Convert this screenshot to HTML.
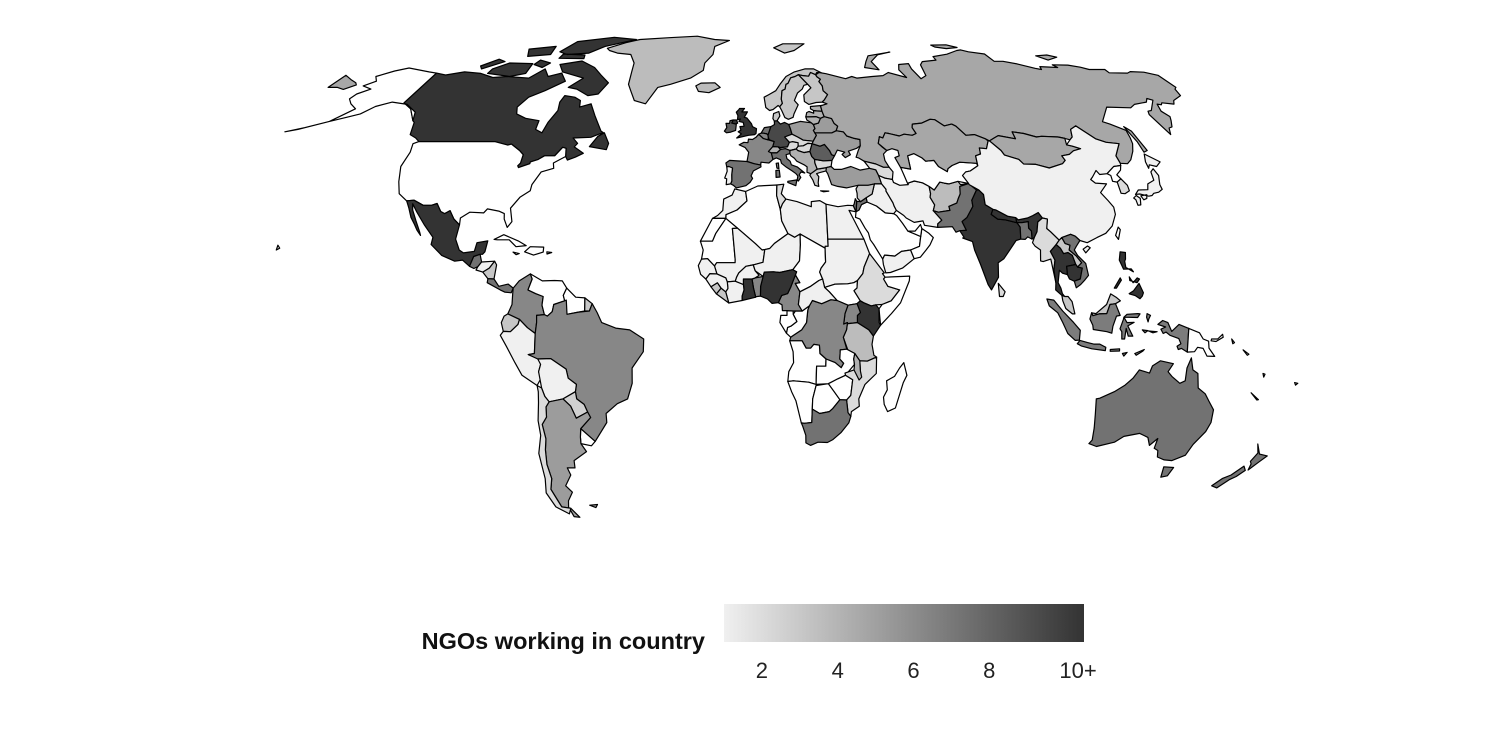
<!DOCTYPE html>
<html><head><meta charset="utf-8">
<style>
html,body{margin:0;padding:0;background:#fff;}
#wrap{position:relative;width:1500px;height:750px;overflow:hidden;font-family:"Liberation Sans",sans-serif;}
svg{position:absolute;left:0;top:0;}
</style></head>
<body>
<div id="wrap">
<svg id="map" width="1500" height="750" viewBox="0 0 1500 750">
  <defs>
    <linearGradient id="lg" x1="0" x2="1" y1="0" y2="0">
      <stop offset="0" stop-color="#f0f0f0"/>
      <stop offset="1" stop-color="#333333"/>
    </linearGradient>
  </defs>
  <g id="countries"></g>
  <g id="legend">
    <text x="705" y="649" text-anchor="end" font-size="23.5" font-weight="bold" fill="#111">NGOs working in country</text>
    <rect x="724" y="604" width="360" height="38" fill="url(#lg)"/>
    <g id="legend-ticks"></g>
  </g>
</svg>
</div>
<script>
// ---- data ----
const countryNames = ["canada","usa","alaska","mexico","greenland","iceland","guatemala","honduras","nicaragua","costa-rica-panama","cuba","hispaniola",
"colombia","venezuela","guyanas","french-guiana","ecuador","peru","brazil","bolivia","paraguay","uruguay","argentina","chile",
"uk","ireland","france","spain","portugal","netherlands","belgium","germany","switzerland","austria","italy","sicily","sardinia","poland","czechia-slovakia","hungary","balkans","greece","bulgaria","romania","ukraine","belarus","lithuania","latvia","estonia","norway","sweden","finland","denmark","russia","novaya-zemlya","sakhalin","turkey","caucasus",
"morocco","western-sahara","algeria","tunisia","libya","egypt","mauritania","mali","niger","chad","sudan","south-sudan","ethiopia","somalia","kenya","uganda","tanzania","drc","congo","gabon","cameroon","car","nigeria","benin","ghana","ivory-coast","burkina-faso","liberia","sierra-leone","guinea","senegal","angola","namibia","botswana","zambia","zimbabwe","mozambique","malawi","south-africa","madagascar",
"saudi-arabia","yemen","oman","uae","iraq","jordan","israel","syria","iran","afghanistan","pakistan","india","nepal","bangladesh","sri-lanka","central-asia","kazakhstan","mongolia","china","taiwan","hainan","north-korea","south-korea","japan",
"myanmar","thailand","laos","cambodia","vietnam","malaysia","malaysia-borneo","kalimantan","sumatra","java","sulawesi","west-papua","png","philippines","australia","tasmania","new-zealand","canada-islands"];
const ngoCounts = [10,0,0,10,3.5,3.5,7,1,3,7,0,0,
6,0,0,3,3,1,6,1,2.5,0,5,2,
10,8,6,7,1,7,6,9,4,2,7,7,7,5,2,2,4,3,2,8,5,5,4,4,4,3,3,3,3,4.5,4.5,4.5,5,2,
1,0,0,2,1,1,0,1,1,0,1,0,2,0,10,6,3.5,6,0,0,6,1,10,6,10,1,1,3,3,1,1,0,0,0,0,0,2,4,7,0,
0,1,0,0,1,7,7,3,1,3.5,7,10,10,7,2,0,4.5,4.5,1,0,1,0,2,1,
2,10,3,10,7,3,3,6.5,6.5,6.5,6.5,6.5,0,10,7,7,7,10];
const legendTicks = [2,4,6,8,10];
const legendTickLabels = ["2","4","6","8","10+"];

// ---- geometry (lon,lat) ----
const S = {
canada:[[[-141,69.6],[-136,69],[-129,70],[-121,69.5],[-114,68.2],[-108,68.5],[-98,68],[-94,71],[-90,68.5],[-85,69.6],[-81,67],[-87,64],[-92,62],[-94,59],[-92.5,57],[-88,55.7],[-82.3,55],[-82,52.5],[-79,51.5],[-78.5,54.5],[-77,58],[-78,60.5],[-77.5,62.5],[-73,62],[-70,61],[-69,59],[-65,60],[-61.5,56.5],[-57,52],[-56,51.6],[-60,50.2],[-66.5,50],[-64.2,48.5],[-65,47.5],[-61,45.7],[-63.5,44.6],[-66,43.8],[-67,44.8],[-67.8,47.1],[-69.2,47.4],[-71,45],[-74.7,45],[-76.5,44],[-79,43.3],[-79,42.8],[-82.5,41.7],[-83,42.2],[-82.4,43],[-82.5,45.3],[-84.5,46.5],[-88.4,48.3],[-89.6,48],[-95,49],[-123,49],[-125,50],[-128,51],[-130,54.5],[-131,55],[-136,58.5],[-141,60.3]],
 [[-59.5,47.6],[-53,46.7],[-52.8,48.5],[-55.5,51.5],[-57.5,50.5]]],
"canada-islands":[[[-80,73.7],[-72,71.5],[-67,69],[-62,66.5],[-64,63],[-68,62.5],[-74,64.5],[-78,65],[-74,68],[-85,70],[-89,72.5]],
 [[-118,71],[-113,73],[-102,72.8],[-101,69.5],[-107,68.5],[-118,69.5]],
 [[-95,77],[-92,81],[-75,83],[-62,82],[-75,79],[-80,76.5],[-90,76]],
 [[-125,72],[-120,74.3],[-116,73.5],[-123,71]],
 [[-92,76.2],[-81,75.8],[-80,74.5],[-92,74.6]],
 [[-112,78],[-100,79],[-98,76],[-108,75.3]],
 [[-100,74],[-94,73],[-96,71.5],[-101,72.5]]],
usa:[[[-124.7,48.4],[-123.8,46],[-124.3,42],[-122.4,37.8],[-120.5,34.5],[-117.1,32.5],[-114.7,32.7],[-111,31.3],[-108.2,31.3],[-106.5,31.8],[-104.5,29.6],[-103,29],[-101.4,29.8],[-99.5,27.5],[-97.2,25.9],[-97.4,27.8],[-94.7,29.4],[-90,29.2],[-89,30.3],[-85,29.7],[-83,29],[-82.7,27.5],[-81.2,25.2],[-80,26.8],[-81.3,30.5],[-79,33.5],[-76,35.3],[-76,37],[-74,40.5],[-70,41.5],[-70.7,43],[-67,44.8],[-67.8,47.1],[-69.2,47.4],[-71,45],[-74.7,45],[-76.5,44],[-79,43.3],[-79,42.8],[-82.5,41.7],[-83,42.2],[-82.4,43],[-82.5,45.3],[-84.5,46.5],[-88.4,48.3],[-89.6,48],[-95,49],[-123,49]],
 [[-156,19],[-155,19.5],[-155.8,20.3]]],
alaska:[[[-141,69.6],[-141,60.3],[-136,58.5],[-131,55],[-133,57.5],[-139,59.8],[-146,60.5],[-151,59.2],[-154,57],[-158,56],[-163,54.8],[-158,58.5],[-162,60],[-165,61.5],[-164.5,63],[-161,64.5],[-166,65.5],[-163,67],[-166,68.5],[-161,70.3],[-156.5,71.3],[-152,70.8],[-145,70]],
 [[-163,54.8],[-172,52.5],[-176,51.8],[-170,53]]],
mexico:[[[-117.1,32.5],[-114.7,32.7],[-111,31.3],[-108.2,31.3],[-106.5,31.8],[-104.5,29.6],[-103,29],[-101.4,29.8],[-99.5,27.5],[-97.2,25.9],[-97.7,22],[-96,19],[-94.5,18.2],[-91,18.6],[-90.5,21],[-87,21.5],[-87.5,18.5],[-88.2,17.8],[-89,17.8],[-91,17.2],[-92,14.5],[-94.5,16.2],[-97,15.9],[-101.5,17.5],[-105.5,20.5],[-105.3,22.5],[-109,26],[-112.5,29.5],[-114.7,31.7],[-114,30],[-112,27],[-110,24],[-109.5,23],[-111,24.5],[-112.2,26],[-114,28],[-115.5,30.5]]],
greenland:[[[-73,78.3],[-66,80.5],[-60,82],[-45,82.8],[-30,83.5],[-20,82],[-12,81.5],[-19,79],[-19,76],[-22,73],[-22,70.5],[-27,68],[-35,66],[-40,65],[-43,60],[-48,61],[-51,64],[-53,66],[-54,70],[-55,73],[-59,76],[-66,76.5],[-71,77.5]]],
iceland:[[[-24,65.5],[-22,66.4],[-16,66.5],[-13.5,65],[-18,63.4],[-22.5,63.8]]],
guatemala:[[[-92,14.5],[-91,17.2],[-89,17.8],[-88.2,15.7],[-89.3,14.4],[-90.5,13.9]]],
honduras:[[[-89.3,14.4],[-88.2,15.7],[-84,15.9],[-85.5,14],[-87.5,12.9],[-89.8,13.5]]],
nicaragua:[[[-87.5,12.9],[-85.5,14],[-84,15.9],[-83.2,14.9],[-83.7,11],[-85.7,11.1]]],
"costa-rica-panama":[[[-85.7,11.1],[-83.7,11],[-82,9],[-79,9.6],[-77.3,8.5],[-77.9,7.2],[-80,7.4],[-81.5,8],[-85.8,10]]],
cuba:[[[-85,21.9],[-82,23.2],[-77,21.5],[-74.2,20.2],[-77.5,19.9],[-80,21.8],[-84,21.8]]],
hispaniola:[[[-74.5,18.5],[-72.8,19.9],[-68.4,19.8],[-68.4,18.4],[-71.5,17.6]],[[-78.3,18.4],[-76.2,18],[-77.2,17.7]],[[-67.2,18.5],[-65.6,18.3],[-67.1,17.9]]],
colombia:[[[-77.3,8.5],[-75.5,10.5],[-72,12.4],[-71.3,11],[-72.5,8],[-70,7],[-67.5,6.2],[-67.8,3.8],[-67,1.2],[-69.5,1],[-69.5,-1],[-70,-4],[-72.5,-2.4],[-75,-0.1],[-78.8,1.4],[-77.5,4],[-77.4,7]]],
venezuela:[[[-72,12.4],[-68,10.5],[-64,10.6],[-61.5,10.5],[-60,8.5],[-61,6.5],[-60.5,5],[-64,4],[-64.5,2],[-66,0.8],[-67,1.2],[-67.8,3.8],[-67.5,6.2],[-70,7],[-72.5,8],[-71.3,11]]],
guyanas:[[[-60,8.5],[-57,6],[-54,5.8],[-54,2.2],[-56,1.9],[-59.7,1.3],[-60.5,5],[-61,6.5]]],
"french-guiana":[[[-54,5.8],[-51.6,4.2],[-52.5,2.2],[-54,2.2]]],
ecuador:[[[-78.8,1.4],[-75,-0.1],[-75.5,-1.5],[-78,-3.5],[-80.3,-3.4],[-80.9,-1],[-80,0.8]]],
peru:[[[-80.3,-3.4],[-78,-3.5],[-75.5,-1.5],[-75,-0.1],[-72.5,-2.4],[-70,-4],[-70.5,-9.5],[-72.5,-9.8],[-69,-11],[-68.7,-12.5],[-69.5,-14.5],[-69,-16.5],[-70.4,-18.3],[-75,-15.5],[-77,-12],[-79.5,-7.5],[-81.3,-4.5]]],
brazil:[[[-60,5.2],[-59.7,1.3],[-56,1.9],[-52.5,2.2],[-51.6,4.2],[-50,1.8],[-48.5,-1],[-44,-2.5],[-39.5,-3],[-35,-5.5],[-35.2,-9],[-39,-13.5],[-39.2,-17.7],[-41,-22],[-44.5,-23.3],[-48.5,-26],[-48.6,-28.5],[-53.4,-33.7],[-57.6,-30.2],[-53.8,-27.1],[-54.6,-25.6],[-55.5,-23.5],[-57.8,-22],[-58,-20],[-57.5,-18],[-60,-16.3],[-60.5,-13.8],[-65.3,-10.9],[-69.5,-11],[-72.5,-9.8],[-70.5,-9.5],[-70,-4],[-69.5,-1],[-69.5,1],[-67,1.2],[-66,0.8],[-64.5,2],[-64,4],[-60.5,5]]],
bolivia:[[[-69.5,-11],[-65.3,-10.9],[-60.5,-13.8],[-60,-16.3],[-57.5,-18],[-58,-20],[-62.3,-22],[-67,-22.8],[-68.2,-21.3],[-69,-19],[-69.5,-14.5],[-68.7,-12.5]]],
paraguay:[[[-58,-20],[-57.8,-22],[-55.5,-23.5],[-54.6,-25.6],[-58.6,-27.3],[-60,-24],[-62.3,-22]]],
uruguay:[[[-57.6,-30.2],[-53.4,-33.7],[-54.9,-34.9],[-58.4,-34.3],[-58.2,-32.5]]],
argentina:[[[-67,-22.8],[-62.3,-22],[-60,-24],[-58.6,-27.3],[-54.6,-25.6],[-53.8,-27.1],[-57.6,-30.2],[-58.2,-32.5],[-58.4,-34.3],[-57,-36.5],[-62,-39],[-62.3,-41],[-65,-41],[-64.5,-43],[-67.5,-46],[-65.8,-47.8],[-68.3,-50.2],[-69.2,-52],[-68.6,-54.8],[-66.5,-55],[-68.6,-52.4],[-71.8,-52],[-72.3,-50],[-73.3,-47],[-71.7,-44],[-71.8,-40],[-71,-36],[-70,-33],[-70.3,-29],[-68.5,-27],[-68.2,-24.2]],
 [[-61,-51.5],[-58,-51.3],[-59,-52.2]]],
chile:[[[-70.4,-18.3],[-69,-19],[-68.2,-21.3],[-67,-22.8],[-68.2,-24.2],[-68.5,-27],[-70.3,-29],[-70,-33],[-71,-36],[-71.8,-40],[-71.7,-44],[-73.3,-47],[-72.3,-50],[-71.8,-52],[-68.6,-52.4],[-70,-54],[-74,-52],[-75.5,-48],[-74,-44],[-73.6,-37],[-71.5,-32],[-71.5,-28],[-70.5,-23],[-70.2,-20]]],
uk:[[[-5,58.6],[-3,58.6],[-4,57.6],[-1.8,57.6],[-3,56],[-2,55.8],[-0.2,54.1],[0.2,53.3],[1.7,52.7],[1.5,51.3],[1,51],[-1.3,50.8],[-3.5,50.4],[-5.7,50],[-4,51.2],[-5.2,51.8],[-4.2,52.3],[-4.6,53.3],[-3,53.4],[-3.4,54.5],[-5,54.8],[-4.5,55.5],[-5.6,55.3],[-5.5,56.5],[-6.2,57.5],[-5.2,58.3]],
 [[-5.5,54.3],[-6,55.2],[-7.3,55.2],[-7.8,54.3],[-6.3,54]]],
ireland:[[[-6.2,52.2],[-6,53.9],[-6.3,54],[-7.8,54.3],[-7.3,55.2],[-8.5,55],[-8.6,54.2],[-10,54.2],[-9.6,53],[-10.4,52],[-9.6,51.5],[-8,51.7]]],
france:[[[-1.8,43.4],[-1.2,46],[-2.5,47.3],[-4.7,48.1],[-3,48.8],[-1.5,48.7],[-1.3,49.7],[0.2,49.6],[1.5,50.2],[2.5,51.1],[4.2,49.9],[5.9,49.5],[8.2,49],[7.6,47.6],[6,46.2],[7,45.8],[7.5,44],[6,43],[3.2,43.2],[3.1,42.4],[0.7,42.8]],[[8.6,42.9],[9.4,43],[9.5,41.4],[8.8,41.6]]],
spain:[[[-9.3,43],[-8,43.7],[-1.8,43.4],[0.7,42.8],[3.1,42.4],[3.2,41.9],[0.5,40.8],[-0.3,39.4],[0.2,38.7],[-0.7,37.6],[-2.1,36.7],[-5.4,36.1],[-6.4,36.8],[-7.4,37.2],[-7,38],[-7.1,39.7],[-6.9,41.6],[-8.2,42],[-8.9,41.9]]],
portugal:[[[-8.9,41.9],[-8.2,42],[-6.9,41.6],[-7.1,39.7],[-7,38],[-7.4,37.2],[-8.9,37],[-8.8,38.6],[-9.5,38.8],[-8.7,40.7]]],
netherlands:[[[3.4,51.4],[4.7,53],[7.2,53.3],[6,50.8],[5.6,51.2],[4.3,51.4]]],
belgium:[[[2.5,51.1],[3.4,51.4],[4.3,51.4],[5.6,51.2],[6,50.8],[6.1,50.1],[5.9,49.5],[4.2,49.9]]],
germany:[[[6,50.8],[7.2,53.3],[8.6,53.9],[8.6,54.9],[9.7,55],[10.9,54],[12.5,54.5],[14.1,53.9],[14.6,52.6],[15,51.1],[12.2,50.3],[13.8,48.8],[13,47.5],[10.4,47.3],[7.6,47.6],[8.2,49],[6.4,49.5],[6.1,50.1]]],
switzerland:[[[6,46.2],[7.6,47.6],[9.6,47.5],[10.4,46.8],[9,45.8],[7,45.8]]],
austria:[[[9.6,47.5],[10.4,47.3],[13,47.5],[13.8,48.8],[15,49],[17,48.7],[16.9,47.7],[16.1,46.9],[13.8,46.5],[12.2,47],[10.4,46.8]]],
italy:[[[7,45.8],[9,45.8],[10.4,46.8],[12.2,47],[13.8,46.5],[13.7,45.6],[12.3,45.3],[12.5,44.2],[13.6,43.5],[14,42.5],[16,41.9],[18.5,40.2],[17.2,40.5],[16.5,39.7],[17,39],[16.1,38],[15.7,38.2],[16,39.4],[15.4,40],[14.1,40.8],[12.2,41.8],[10.5,42.9],[10.2,43.9],[8.7,44.4],[7.5,44]]],
sicily:[[[12.4,37.9],[15.6,38.3],[15.1,36.7],[12.4,37.6]]],
sardinia:[[[8.4,40.9],[9.6,41],[9.8,39.1],[8.4,39]]],
poland:[[[14.1,53.9],[18.6,54.8],[22.8,54.4],[23.5,53.9],[23.9,52.7],[23.2,52.2],[24.1,50.8],[22.6,49.1],[19,49.4],[17,50.3],[15,51.1],[14.6,52.6]]],
"czechia-slovakia":[[[12.2,50.3],[15,51.1],[17,50.3],[19,49.4],[22.6,49.1],[22.1,48.4],[20.5,48.5],[18.8,47.8],[16.9,47.7],[17,48.7],[15,49],[13.8,48.8]]],
hungary:[[[16.1,46.9],[16.9,47.7],[18.8,47.8],[20.5,48.5],[22.1,48.4],[21,46.2],[18.8,45.9],[16.6,46.5]]],
balkans:[[[13.8,46.5],[16.1,46.9],[16.6,46.5],[18.8,45.9],[21,46.2],[21.5,44.8],[22.4,44],[22.4,43],[23,41.3],[20.6,40],[19.3,40.4],[19.5,41.9],[18.5,42.5],[16,43.5],[15.2,44.3],[14,45],[13.7,45.6]]],
greece:[[[20.6,40],[23,41.3],[26.3,41.7],[26,40.8],[23.6,40.3],[22.6,40],[23.3,39.2],[22.9,37.5],[23,36.5],[21.7,36.8],[21.1,38.3],[20.2,39.6]],[[23.5,35.3],[26.3,35.2],[24.5,35]]],
bulgaria:[[[22.4,44],[25.5,43.6],[28.6,43.7],[28,42],[26.3,41.7],[23,41.3],[22.4,43]]],
romania:[[[21,46.2],[22.1,48.4],[24.9,47.7],[26.6,48.2],[28.2,46.4],[28.7,45.3],[29.7,45],[28.6,43.7],[25.5,43.6],[22.4,44],[21.5,44.8]]],
ukraine:[[[22.6,49.1],[24.1,50.8],[23.6,51.5],[30,51.5],[31.8,52.1],[34.4,51.8],[35.4,50.6],[38,49.9],[40,49.6],[39.7,47.8],[38.2,47.1],[35,46.3],[35.5,45.3],[33.5,44.5],[32.5,45.4],[33.6,46],[31,46.6],[29.7,45],[28.7,45.3],[28.2,46.4],[26.6,48.2],[24.9,47.7],[22.1,48.4]]],
belarus:[[[23.2,52.2],[23.9,52.7],[23.5,53.9],[25.5,54.3],[26.6,55.7],[28.2,56.2],[30.9,55.6],[31.5,54.2],[32.7,53.4],[31.8,52.1],[30,51.5],[23.6,51.5]]],
lithuania:[[[21,56.1],[21.2,55.2],[22.8,54.4],[23.5,53.9],[25.5,54.3],[26.6,55.7],[25,56.2]]],
latvia:[[[21,56.1],[21.6,57.4],[22.5,57.7],[24.3,57.2],[24.4,58],[25.6,57.9],[27.7,57.8],[28.2,56.2],[26.6,55.7],[25,56.2]]],
estonia:[[[23.4,59.2],[28,59.5],[27.5,59.4],[27.7,57.8],[25.6,57.9],[24.4,58],[23.3,58.5]]],
norway:[[[5,62],[5.5,58.9],[7,58],[8.4,58.3],[10.5,59.5],[11.1,59.1],[12.3,60.1],[12,61.4],[12.6,64],[14,64.5],[14.6,66],[15.5,66.3],[17,68.1],[19,68.5],[20.6,69.1],[22.4,68.8],[25,68.6],[26.2,69.8],[28.2,69.1],[29,69.8],[31,69.7],[28,71],[24,71],[19,70],[15,68.5],[12,66],[10,64],[7,62.8]],
 [[11,78.5],[16,80],[27,80],[21,77.5],[16,76.5]]],
sweden:[[[11.1,59.1],[12.3,60.1],[12,61.4],[12.6,64],[14,64.5],[14.6,66],[15.5,66.3],[17,68.1],[19,68.5],[20.6,69.1],[23.9,66],[22.2,65.7],[21.2,64.5],[19,63.3],[17.3,61],[18.6,59.7],[16.5,57],[16,56],[14.1,55.4],[12.8,55.9],[11.8,58]]],
finland:[[[20.6,69.1],[22.4,68.8],[25,68.6],[26.2,69.8],[28.2,69.1],[28.6,68.4],[29.9,67.6],[29,66.9],[30,65.5],[29.9,64],[31.4,62.8],[29.6,61.2],[28.5,60.5],[26,60.4],[22.9,59.8],[21.3,60.7],[21.5,62.7],[25,64.9],[23.9,66]]],
denmark:[[[8.1,55.6],[8.5,57.1],[10.6,57.7],[10.9,56.4],[9.7,55],[8.6,54.9]]],
russia:[[[30,69.8],[33,69.4],[41,67.8],[44,68.5],[46,68],[53,68.5],[58,68.8],[61,69.8],[68,68.2],[66.5,70.7],[68,72.5],[72.8,72.8],[72.5,71],[74,67.8],[77,68.8],[78,72.4],[80,73.5],[87,74],[87,75.2],[95,76.1],[102,77.5],[104.3,77.7],[107,77],[113.5,76.2],[113.9,73.6],[118,73.6],[123.2,72.7],[129,71.2],[131.3,70.8],[132.2,71.8],[139.9,71.5],[139,72.4],[146,72.3],[150.4,71.6],[152.9,70.8],[160,70.8],[159.8,69.7],[167.8,69.6],[170,70.1],[175.7,69.9],[180,68.9],[180,65],[178.7,64.5],[177.4,62.5],[172,61],[170.3,59.9],[166,60.3],[164.9,59.7],[163.5,59.9],[162,57.8],[163.2,56.2],[161.9,55],[160,53.2],[158.5,52.9],[156.8,51],[155.9,56.8],[156.8,57.8],[158.4,58],[163.7,61.1],[162,61.6],[160.1,60.5],[154.2,59.8],[151.3,58.8],[142,59],[135.1,54.7],[137.2,54],[141.4,52.2],[140.6,50],[140,48.4],[138.2,46.3],[135.5,43.9],[133.5,42.8],[131,42.9],[131,45],[135,48.4],[130.6,48.8],[127.5,49.8],[123.6,53.5],[120.7,52.5],[119.3,50.3],[117.8,49.5],[116.2,49.9],[114,50.3],[108,50.5],[106,50.3],[102,51.3],[98,51.8],[97.8,49.8],[92,50.7],[90,50],[87.8,49.2],[86.6,49.8],[83.3,51],[80,50.8],[77.8,53.4],[76.5,54],[73.4,53.5],[70.8,55.3],[69,55.4],[65.2,54.3],[61.5,54],[60.9,53],[61.6,51.3],[59.9,50.8],[57,51.1],[55,50.6],[51.3,51.3],[50,51.5],[48.6,50],[47.5,50.4],[46.5,48.5],[47.7,47.4],[49,46.5],[47.5,45.5],[47.5,43.7],[48.5,41.8],[46.5,41.8],[44,42.7],[40,43.5],[38.2,44.4],[37.4,44.6],[38.7,46.6],[39.7,47.8],[40,49.6],[38,49.9],[35.4,50.6],[34.4,51.8],[31.8,52.1],[32.7,53.4],[31.5,54.2],[30.9,55.6],[28.2,56.2],[27.7,57.8],[27.5,59.4],[28,59.5],[30.3,60],[28.5,60.5],[29.6,61.2],[31.4,62.8],[29.9,64],[30,65.5],[29,66.9],[29.9,67.6],[28.6,68.4],[28.3,69.1]],
 [[-180,68.9],[-175,67.5],[-171,66.5],[-169.5,65.8],[-172.5,64.4],[-176,65],[-180,65]],
 [[92,79.5],[100,79.6],[104,78.6],[98,78.2],[93,78.8]],
 [[137,75.5],[143,75.8],[146,75],[140,74]]],
"novaya-zemlya":[[[51.5,71.5],[53.5,73.5],[56,75.5],[68,76.9],[61,75.9],[56,73.5],[57.5,70.7]]],
sakhalin:[[[141.7,53.3],[143.2,52],[143.6,46.5],[142,46],[142.2,49],[141.8,51.7]]],
turkey:[[[26,40.8],[26.5,40],[27,38.5],[27.5,37],[29.5,36.5],[32.5,36.1],[36,36.7],[36.6,36.8],[40,36.8],[42.3,37.2],[44.8,37.2],[44.5,38.5],[44.2,39.5],[43.6,41.1],[41.5,41.5],[38,41],[35,42],[31.5,41.2],[29,41.2],[28,42],[26.3,41.7]]],
caucasus:[[[40,43.5],[41.5,41.5],[43.6,41.1],[44.2,39.5],[46.2,38.8],[48.8,38.4],[49.5,40.5],[48.5,41.8],[46.5,41.8],[44,42.7]]],
morocco:[[[-5.9,35.8],[-2.2,35.1],[-1.7,32.5],[-5,30],[-8.7,28.7],[-8.7,27.7],[-13.2,27.7],[-11.5,28.5],[-9.8,29.9],[-9.6,33],[-6.8,34.1]]],
"western-sahara":[[[-8.7,27.7],[-13.2,27.7],[-17,21.4],[-13,21.4],[-12,23.5]]],
algeria:[[[-2.2,35.1],[2,36.6],[8.6,36.9],[8.4,34],[9.5,30.2],[9.9,27],[11.9,23.5],[7.4,20.8],[5.8,19.4],[4.2,19.1],[3.3,19],[1.2,20.7],[-4.8,25],[-8.7,27.7],[-8.7,28.7],[-5,30],[-1.7,32.5]]],
tunisia:[[[8.6,36.9],[11,37.1],[10,34.5],[11.5,33],[10.3,31.7],[9.5,30.2],[8.4,34]]],
libya:[[[11.5,33],[15.2,32.3],[20,30.9],[20.1,32.3],[23,32.6],[25,31.6],[25,22],[25,20],[24,20],[24,19.5],[15.9,23.4],[14.1,22.5],[11.9,23.5],[9.9,27],[9.5,30.2],[10.3,31.7]]],
egypt:[[[25,31.6],[29,30.9],[32.3,31.3],[34.2,31.2],[34.9,29.5],[32.6,29.9],[36.9,22],[31.5,22],[25,22]]],
mauritania:[[[-17,21.4],[-16,19],[-16.5,16.5],[-14.5,16.6],[-12.2,14.6],[-11.5,15.5],[-5.5,15.5],[-5.5,16.3],[-6.5,24.9],[-4.8,25],[-8.7,27.7],[-12,23.5],[-13,21.4]]],
mali:[[[-12.2,14.6],[-11.4,12.4],[-8.5,11.3],[-8,10.2],[-5.4,10.4],[-5,11.5],[-4.3,12.7],[-2,14.5],[0.4,14.9],[3.6,15.6],[4.2,19.1],[3.3,19],[1.2,20.7],[-4.8,25],[-6.5,24.9],[-5.5,16.3],[-5.5,15.5],[-11.5,15.5]]],
niger:[[[0.4,14.9],[1,13.3],[3.6,11.7],[4,12.9],[7,13],[9,12.8],[13.3,13.6],[15.5,16],[15.9,20.4],[15.9,23.4],[14.1,22.5],[11.9,23.5],[7.4,20.8],[5.8,19.4],[4.2,19.1],[3.6,15.6]]],
chad:[[[15.9,23.4],[24,19.5],[24,15.7],[22.5,14],[22,12.9],[22.9,11],[21.7,10.6],[19,9],[15.5,7.5],[14,9.8],[15.5,10],[13.9,12.4],[13.3,13.6],[15.5,16],[15.9,20.4]]],
sudan:[[[24,20],[25,20],[25,22],[31.5,22],[36.9,22],[38.5,18],[36.5,14.3],[36,12.5],[34.2,10.6],[33,10],[31,9.7],[27,9.6],[23.5,8.7],[22.9,11],[22,12.9],[22.5,14],[24,15.7],[24,19.5]]],
"south-sudan":[[[23.5,8.7],[27,9.6],[31,9.7],[33,10],[34.2,10.6],[34,8.5],[33,7.8],[35,5],[33.9,4.2],[31,3.8],[27.5,5.1],[25,7.5]]],
ethiopia:[[[36.5,14.3],[38.5,18],[43,12.7],[42.4,12.5],[43.2,11.5],[42.7,11],[44,9],[47.8,8],[45,5],[42,4],[40,3.9],[38.5,3.6],[36,4.5],[35,5],[33,7.8],[34,8.5],[34.2,10.6],[36,12.5]]],
somalia:[[[43.2,11.5],[51.2,11.8],[51,10.5],[48,4.5],[45,1.5],[41.5,-1.7],[41,2.8],[42,4],[45,5],[47.8,8],[44,9],[42.7,11]]],
kenya:[[[35,5],[36,4.5],[38.5,3.6],[40,3.9],[41,2.8],[41,-1],[41.5,-1.7],[39.2,-4.7],[37.7,-3],[34,-1],[34,1],[35,1.8],[33.9,4.2]]],
uganda:[[[29.6,-1.4],[34,-1],[34,1],[35,1.8],[33.9,4.2],[31,3.8],[30,1.5]]],
tanzania:[[[29.6,-1.4],[34,-1],[37.7,-3],[39.2,-4.7],[38.8,-7],[39.5,-10],[40.4,-10.5],[37.5,-11.6],[35,-11.5],[33.3,-9.5],[31,-8.5],[29.5,-5],[30.5,-3],[30.8,-1]]],
drc:[[[12.2,-6],[12.5,-5],[13,-4.7],[16,-3],[17.6,-1],[18,2.5],[18.5,3.6],[19.5,5.1],[22.5,4.2],[25.5,5.3],[27.5,5.1],[31,3.8],[30,1.5],[29.6,-1.4],[30.8,-1],[30.5,-3],[29.5,-5],[30.7,-8.3],[28.6,-8.5],[28.5,-11],[29.8,-12.2],[29,-13.4],[27,-12],[24,-11],[22,-9.5],[21.8,-7.2],[20,-7],[19,-8],[17.5,-8],[16.2,-6]]],
congo:[[[11.1,-3.9],[12.5,-5],[13,-4.7],[16,-3],[17.6,-1],[18,2.5],[18.5,3.6],[16.2,2.2],[14,2.2],[13.3,1.3],[14.5,-0.7],[12.7,-1.9],[11.5,-2.3]]],
gabon:[[[9.3,1],[11.3,1],[11.3,2.3],[13.3,2.2],[13.3,1.3],[14.5,-0.7],[12.7,-1.9],[11.5,-2.3],[11.1,-3.9],[9,-1]]],
cameroon:[[[8.5,4.5],[9.7,3.9],[9.8,2.3],[11.3,2.3],[13.3,2.2],[16.2,2.2],[15,4],[15.5,7.5],[14,9.8],[15.5,10],[13.9,12.4],[14.5,13],[12.5,8.7],[11.5,7],[9.6,6.5]]],
car:[[[15,4],[16.2,2.2],[18.5,3.6],[19.5,5.1],[22.5,4.2],[25.5,5.3],[27.5,5.1],[25,7.5],[23.5,8.7],[22.9,11],[21.7,10.6],[19,9],[15.5,7.5]]],
nigeria:[[[2.7,6.3],[5,5.5],[6.5,4.3],[8.5,4.5],[9.6,6.5],[11.5,7],[12.5,8.7],[14.5,13],[13.3,13.6],[9,12.8],[7,13],[4,12.9],[3.6,11.7],[2.8,9]]],
benin:[[[0.9,6.1],[2.7,6.3],[2.8,9],[3.6,11.7],[1,11.3],[0,11],[0.5,8.5],[1.2,6]]],
ghana:[[[-3.2,5.1],[1.2,6],[0.5,8.5],[0,11],[-2.8,11],[-2.8,9.5],[-2.6,8],[-3.2,6.3]]],
"ivory-coast":[[[-7.5,4.4],[-3.2,5.1],[-3.2,6.3],[-2.6,8],[-2.8,9.5],[-5.4,10.4],[-8,10.2],[-7.8,8.4],[-8.5,7.5]]],
"burkina-faso":[[[-5.4,10.4],[-2.8,9.5],[-2.8,11],[0,11],[1,11.3],[2.3,12],[1,13.3],[0.4,14.9],[-2,14.5],[-4.3,12.7],[-5,11.5]]],
liberia:[[[-11.5,6.9],[-7.5,4.4],[-8.5,7.5],[-10,8.5]]],
"sierra-leone":[[[-13.3,8.9],[-11.5,6.9],[-10,8.5],[-11.2,10]]],
guinea:[[[-15,11],[-13.3,8.9],[-11.2,10],[-10,8.5],[-8.5,7.5],[-7.8,8.4],[-8,10.2],[-8.5,11.3],[-11.4,12.4],[-13.7,12.5]]],
senegal:[[[-17.5,14.7],[-16.5,16.5],[-14.5,16.6],[-12.2,14.6],[-11.4,12.4],[-13.7,12.5],[-15,11],[-16.7,12.3]]],
angola:[[[11.7,-17.2],[13.5,-17],[18.5,-17.4],[21,-18],[21,-13],[24,-13],[24,-11],[22,-9.5],[21.8,-7.2],[20,-7],[19,-8],[17.5,-8],[16.2,-6],[12.2,-6],[13.3,-9],[13.5,-12],[12,-14.5]]],
namibia:[[[11.7,-17.2],[13.5,-17],[18.5,-17.4],[21,-18],[25,-17.8],[21,-18.3],[20,-22],[20,-24.8],[20,-28.5],[17.5,-28.7],[16.5,-28.6],[14.5,-22.5],[13,-20]]],
botswana:[[[20,-22],[21,-18.3],[25,-17.8],[27,-20],[29,-22.2],[26.8,-24.6],[25.7,-25.5],[22.5,-26],[20,-24.8]]],
zambia:[[[21,-18],[21,-13],[24,-13],[24,-11],[27,-12],[29,-13.4],[29.8,-12.2],[28.5,-11],[28.6,-8.5],[30.7,-8.3],[33.3,-9.5],[33,-11],[33.3,-12.5],[30.5,-15.5],[28,-16.5],[25,-17.8]]],
zimbabwe:[[[25,-17.8],[28,-16.5],[30.5,-15.5],[32.9,-16.7],[32.5,-21],[31.2,-22.3],[29,-22.2],[27,-20]]],
mozambique:[[[40.4,-10.5],[40.5,-15],[37,-18],[35.2,-22],[35.5,-24],[33,-25.5],[32.9,-26.8],[31.9,-25.8],[31.2,-22.3],[32.5,-21],[32.9,-16.7],[30.5,-15.5],[30.3,-14.9],[33.2,-14],[35.3,-14.3],[35,-11.5],[37.5,-11.6]]],
malawi:[[[33.3,-9.5],[35,-11.5],[35.3,-14.3],[35.8,-16],[35,-16.8],[33.2,-14],[33.3,-12.5],[33,-11]]],
"south-africa":[[[16.5,-28.6],[17.5,-28.7],[20,-28.5],[20,-24.8],[22.5,-26],[25.7,-25.5],[26.8,-24.6],[29,-22.2],[31.2,-22.3],[31.9,-25.8],[32.9,-26.8],[32.4,-28.6],[30,-31.3],[27.5,-33.2],[25.7,-34],[22.5,-33.9],[20,-34.8],[18.4,-34.1],[18.2,-32],[17,-29.5]]],
madagascar:[[[49.3,-12],[50.5,-15.5],[49.5,-17.5],[47.5,-24.5],[45,-25.5],[43.7,-23.5],[43.3,-21.5],[44.4,-19.5],[44,-17],[46.5,-15.8],[48,-13.5]]],
"saudi-arabia":[[[34.9,29.5],[37,31.5],[39,32.2],[42,31.1],[44.7,29.2],[47.5,29],[48.4,28.5],[50.1,26.3],[51.6,24.2],[55.7,22.7],[55,20],[52,19],[49,18.6],[46.7,17.3],[43.4,17.6],[42.7,16.5],[40,20.5],[39,21.8],[38.5,23.7],[37.5,25],[36,27.5],[34.6,28]]],
yemen:[[[42.7,16.5],[43.4,17.6],[46.7,17.3],[49,18.6],[52,19],[53,16.6],[49,14],[45,12.8],[43.5,12.7],[42.8,15]]],
oman:[[[52,19],[55,20],[55.7,22.7],[56.3,24.9],[58.5,23.6],[59.8,22.4],[58.5,20.4],[57,18.9],[55,17],[53,16.6]]],
uae:[[[51.6,24.2],[55.7,22.7],[56.3,24.9],[56,26],[54,24.2]]],
iraq:[[[39,32.2],[42,31.1],[44.7,29.2],[47.5,29],[48.5,29.9],[48,31],[47.7,32],[45.9,35.2],[46,35.7],[44.8,37.2],[42.3,37.2],[41,34.4],[38.8,33.4]]],
jordan:[[[34.9,29.5],[35.5,32.4],[36.8,32.3],[38.8,33.4],[39,32.2],[37,31.5],[36,30]]],
israel:[[[34.2,31.2],[34.9,29.5],[35.5,32.4],[35.1,33.1],[34.5,31.6]]],
syria:[[[35.7,35.8],[35.9,34.6],[35.8,33.3],[36.8,32.3],[38.8,33.4],[41,34.4],[42.3,37.2],[40,36.8],[36.6,36.8]]],
iran:[[[44.2,39.5],[44.5,38.5],[44.8,37.2],[46,35.7],[45.9,35.2],[47.7,32],[48,31],[48.5,29.9],[50.8,28.5],[51.5,27.8],[54,26.6],[57,27],[57.3,25.8],[61.6,25.2],[61.8,26.2],[63.3,27.2],[63,29.5],[60.9,29.8],[61.7,31.4],[60.6,33.5],[61,34.5],[61,36.5],[59,37.5],[56.3,38],[54,37.4],[53.9,37],[51,36.8],[49,37.6],[48.8,38.4],[46.2,38.8]]],
afghanistan:[[[61,36.5],[61,34.5],[60.6,33.5],[61.7,31.4],[60.9,29.8],[62.5,29.4],[66.5,29.9],[66.4,31],[69.3,31.9],[70.3,33.4],[71.1,34.4],[71.6,36.5],[74.9,37.3],[72,37],[71.4,37.9],[68,37.2],[66.5,37.4],[65,37.7],[62.5,35.5]]],
pakistan:[[[61.6,25.2],[66.5,25.4],[67.5,23.9],[68.8,24.3],[71,24.4],[70,26.8],[71.8,27.9],[74.5,31],[74.6,32.7],[77,35.5],[74.9,37.3],[71.6,36.5],[71.1,34.4],[70.3,33.4],[69.3,31.9],[66.4,31],[66.5,29.9],[62.5,29.4],[60.9,29.8],[63.3,27.2],[61.8,26.2]]],
india:[[[68.8,24.3],[70,22.5],[69.5,22.3],[72.6,21.3],[73,19],[74.5,15],[76.5,9.5],[77.5,8],[78.2,9],[80,11.5],[80.3,15.5],[82.3,16.6],[85,19.5],[87,21.6],[88.6,22],[89,25.3],[88.2,26.5],[89.8,26.5],[92,26.8],[91.7,25],[92.5,24.2],[92.3,22],[93.2,22.5],[94.3,24],[95.2,26.7],[97,27.8],[96,29.3],[94,28.5],[92,27.8],[88.8,27.3],[88.1,27.9],[88.1,26.5],[84.5,27.3],[82,27.5],[80.1,28.8],[81,30.2],[78.8,31.5],[79,34.3],[77.8,35.5],[77,35.5],[74.6,32.7],[74.5,31],[71.8,27.9],[70,26.8],[71,24.4]]],
nepal:[[[80.1,28.8],[82,27.5],[84.5,27.3],[88.1,26.5],[88.1,27.9],[85.5,28.3],[82,30],[81,30.2]]],
bangladesh:[[[88.6,22],[89,25.3],[88.2,26.5],[89.8,26.5],[92,26.8],[91.7,25],[92.5,24.2],[92.3,22],[91,22.6],[90,21.9]]],
"sri-lanka":[[[79.8,9.8],[81.9,7.5],[81.2,6.2],[80,6.2]]],
"central-asia":[[[53,40],[53.9,37],[54,37.4],[56.3,38],[59,37.5],[61,36.5],[62.5,35.5],[65,37.7],[66.5,37.4],[68,37.2],[71.4,37.9],[74.9,37.3],[75,40.5],[76.8,40.8],[80,42.2],[79.9,42.9],[74,43.2],[70.9,42.3],[69.1,41.4],[68.6,40.6],[66,42],[65,43.7],[62,43.5],[61,44.4],[58.5,45.6],[56,45],[55.9,41.3],[52.5,41.8]]],
kazakhstan:[[[46.5,48.5],[49,46.5],[51,47],[53,46.5],[53,45],[51.3,44.5],[52.5,41.8],[55.9,41.3],[56,45],[58.5,45.6],[61,44.4],[62,43.5],[65,43.7],[66,42],[68.6,40.6],[69.1,41.4],[70.9,42.3],[74,43.2],[79.9,42.9],[80,42.2],[80.5,45],[82.5,45.5],[83,47.2],[85.5,47],[87.3,49.2],[86.6,49.8],[83.3,51],[80,50.8],[77.8,53.4],[76.5,54],[73.4,53.5],[70.8,55.3],[69,55.4],[65.2,54.3],[61.5,54],[60.9,53],[61.6,51.3],[59.9,50.8],[57,51.1],[55,50.6],[51.3,51.3],[50,51.5],[48.6,50],[47.5,50.4]]],
mongolia:[[[87.8,49.2],[90.5,46.5],[91,45.2],[95.5,44],[96.5,42.7],[100.8,42.6],[105,41.6],[110.4,42.8],[111.9,43.7],[111.5,45],[114.5,45.4],[116.7,46.4],[119.8,47],[117.4,47.7],[115.5,48.1],[116.2,49.9],[114,50.3],[108,50.5],[106,50.3],[102,51.3],[98,51.8],[97.8,49.8],[92,50.7],[90,50]]],
china:[[[73.5,39.5],[75,40.5],[76.8,40.8],[80,42.2],[80.5,45],[82.5,45.5],[83,47.2],[85.5,47],[87.3,49.2],[87.8,49.2],[90.5,46.5],[91,45.2],[95.5,44],[96.5,42.7],[100.8,42.6],[105,41.6],[110.4,42.8],[111.9,43.7],[111.5,45],[114.5,45.4],[116.7,46.4],[119.8,47],[117.4,47.7],[115.5,48.1],[117.8,49.5],[119.3,50.3],[120.7,52.5],[123.6,53.5],[127.5,49.8],[130.6,48.8],[135,48.4],[131,45],[131,42.9],[130.7,42.3],[128,42],[124.3,40],[121.6,39.8],[121,40.9],[118.7,39.1],[117.7,38.4],[118.8,37.4],[122.5,37.2],[119.2,34.8],[120.8,32.6],[121.9,30.8],[121.7,28.8],[119.6,25.6],[117,23.6],[113.8,22.4],[110.3,21],[108,21.6],[106.7,22.8],[105.3,23.3],[102.2,22.4],[101.2,21.7],[98.8,24],[97.7,24.9],[98.6,27.5],[97,27.8],[96,29.3],[94,28.5],[92,27.8],[88.8,27.3],[88.1,27.9],[85.5,28.3],[82,30],[81,30.2],[78.8,31.5],[79,34.3],[77.8,35.5],[75,37],[74.9,37.3]]],
taiwan:[[[120.1,23],[121.5,25.3],[122,24.6],[120.8,21.9]]],
hainan:[[[108.6,19.2],[110.2,20.1],[111,19.6],[109.3,18.2]]],
"north-korea":[[[124.3,40],[128,42],[130.7,42.3],[129.7,41],[127.5,39.7],[128.3,38.6],[126.5,37.7],[125,37.9],[125.3,39.5]]],
"south-korea":[[[126.1,34.6],[126.5,37.7],[128.3,38.6],[129.5,36.8],[129.3,35.3],[127.4,34.5]]],
japan:[[[130.9,34.3],[132.5,35.5],[135.8,35.6],[136.8,37.2],[139.5,38.2],[140,40.5],[141.5,41.4],[142,39.5],[140.8,37],[140.8,35.7],[139.1,34.9],[137.3,34.6],[136.4,34],[135.2,33.8],[132.4,34.4]],
 [[140,41.5],[140.3,43.3],[141.6,45.5],[145.5,43.3],[143.2,42],[141,42.5]],
 [[129.8,33.3],[131,34],[132,33.2],[131.3,31.4],[130.3,31.3],[130.3,32.8]],
 [[132.5,33.9],[134.7,34.2],[134.2,33.2],[133,32.8]]],
myanmar:[[[92.3,21],[93.2,22.5],[94.3,24],[95.2,26.7],[97,27.8],[98.6,27.5],[97.7,24.9],[98.8,24],[101.2,21.7],[100,20.5],[97.8,18.6],[98.9,16.2],[98.2,13.5],[98.5,10],[97.6,16.5],[95,15.8],[94.2,16],[94.6,19],[93,20]]],
thailand:[[[97.8,18.6],[100,20.5],[101.2,19.5],[102,18],[103.5,18.3],[104.8,17.5],[105.5,15],[102.5,14.5],[102.5,12.2],[100.9,12.6],[100,13.4],[99.2,10],[100,8.5],[100.4,7],[101.1,6.2],[100.2,6.5],[98.3,8],[98.5,10],[98.2,13.5],[98.9,16.2]]],
laos:[[[101.2,21.7],[102.2,22.4],[103,20.8],[104.5,20.3],[104,19],[106,17.4],[107.5,15.5],[106,14.3],[105.5,15],[104.8,17.5],[103.5,18.3],[102,18],[101.2,19.5],[100,20.5]]],
cambodia:[[[102.5,14.5],[105.5,15],[106,14.3],[107.5,14],[106.5,11],[104.5,10.4],[103,11],[102.5,12.2]]],
vietnam:[[[102.2,22.4],[105.3,23.3],[106.7,22.8],[108,21.6],[106.5,20],[105.7,19],[106.5,17.5],[108.8,15.3],[109.3,12],[108,10.8],[106.5,9.5],[105,8.6],[104.5,10.4],[106.5,11],[107.5,14],[106,14.3],[107.5,15.5],[106,17.4],[104,19],[104.5,20.3],[103,20.8]]],
malaysia:[[[101.1,6.2],[102.2,6.2],[103.4,4.8],[104.2,1.4],[103.4,1.4],[101.3,2.9],[100.4,5],[100.2,6.5]]],
"malaysia-borneo":[[[109.6,1.7],[111,1.5],[114.5,4],[116,6.9],[117.7,6],[119,5],[117.4,4.2],[115.6,4],[114.5,1.5],[112,1.4],[110,0.9]]],
kalimantan:[[[109.6,1.7],[109,0],[110,-1.7],[110.2,-2.9],[114.6,-3.5],[116.2,-3.9],[116.5,-2],[117.6,0.8],[118.8,1],[117.4,4.2],[115.6,4],[114.5,1.5],[112,1.4],[110,0.9]]],
sumatra:[[[95.3,5.5],[97.5,5.2],[100.3,2.2],[103.8,-1],[106,-3.1],[105.8,-5.8],[104.5,-5.9],[102,-4],[100.3,-1],[98.7,1.7],[96,3.6]]],
java:[[[105.2,-6.8],[106,-5.9],[108.5,-6.5],[110.5,-6.9],[112.5,-6.9],[114.5,-7.8],[114.4,-8.7],[110,-8.2],[106.5,-7.4]],[[116,-8.4],[119,-8.2],[119,-8.8],[116,-8.9]],[[120,-9.5],[121.5,-9.2],[120.5,-10.2]],[[124,-9.5],[127,-8.4],[126.5,-8.9],[124.5,-10]]],
sulawesi:[[[119.5,-5.5],[120.4,-5.5],[120.8,-2.6],[121.5,-4.7],[123,-4.7],[121.3,-1.9],[123.3,-0.9],[121,-1],[120,0.5],[121,1.3],[124.5,1.5],[125.2,1.4],[124.4,0.4],[120,0.5],[119.8,-0.1],[118.8,-2.7],[119.4,-3.5]],[[127.5,1.5],[128.6,1],[128,0],[127.8,-0.8],[127.3,0.5]],[[126,-3],[127.8,-3.2],[126.9,-3.8]],[[128,-3.3],[130.8,-3.5],[129.5,-3.8]]],
"west-papua":[[[131,-1.5],[132.5,-0.4],[134.2,-1],[135.5,-3.4],[137.8,-1.5],[141,-2.6],[141,-9.1],[139,-8.1],[138,-8.4],[137.5,-7.5],[138.7,-6.8],[137.9,-5.4],[135,-4.5],[133.7,-3.6],[132.8,-4],[132,-2.8],[133.5,-2.2]]],
png:[[[141,-2.6],[144.5,-3.8],[145.8,-5.5],[147.6,-6.1],[147.9,-8],[150,-10.3],[147.5,-10.2],[146,-8.1],[144.2,-7.8],[143.3,-9],[141,-9.1]],[[148.5,-5.5],[150.5,-5.5],[152,-4.2],[152.2,-5],[150,-6.2],[148.4,-6]],[[155,-5.5],[156,-6.5],[155.5,-6.8]],[[159,-8.5],[161,-9.7],[160.5,-10]],[[166.5,-15],[167.2,-15.2],[167,-16]],[[164,-20.3],[167,-22.2],[166.5,-22.3]],[[177.5,-17.5],[178.6,-17.7],[178,-18.2]]],
philippines:[[[120.6,18.5],[122.3,18.3],[122,16.5],[121.6,15.9],[121.7,14.2],[124,13],[123.4,13.8],[120.9,13.7],[120.5,14.7],[119.9,16.2]],[[122,7],[123.5,7.8],[125.4,9.8],[126.6,7.2],[126.2,6.3],[125.4,5.6],[124,6.4],[122.1,6.9]],[[122.5,11.6],[123.5,10],[125,11.3],[125.7,11],[124.8,10],[122.5,10.6]],[[118,8.5],[119.8,10.7],[119.5,11.3],[117.3,8.5]]],
australia:[[[113.5,-22],[114.2,-26.3],[115,-30],[115.7,-33.3],[115,-34.3],[117.9,-35.1],[123.5,-33.9],[126,-32.3],[131,-31.5],[134.3,-32.6],[135.9,-34.8],[137.8,-32.9],[138,-35.6],[139.6,-36.2],[140.6,-38],[143.5,-38.8],[146.3,-39],[150,-37.5],[150.7,-34.5],[153,-31],[153.6,-28.5],[153,-25],[150.8,-22.6],[149,-20.6],[146.3,-19],[145.3,-15],[143.5,-14],[142.5,-10.7],[141.5,-13.5],[141.6,-17],[140,-17.7],[137,-15.8],[135.5,-14.5],[136.9,-12.3],[132.6,-11.5],[130.2,-12.9],[129.5,-14.9],[126.1,-14],[124.4,-16.3],[122.2,-18.2],[119,-20],[114.6,-21.8]]],
tasmania:[[[144.7,-40.7],[148.3,-40.9],[148,-43.2],[146,-43.6]]],
"new-zealand":[[[172.7,-34.4],[175.4,-37.2],[178.5,-37.7],[177,-39.3],[175.2,-41.6],[174.6,-39.9],[173.8,-39.2],[174.6,-36.9]],[[172.7,-40.5],[174.3,-41.7],[172.7,-43.4],[171.2,-44.2],[169,-46.6],[166.5,-46],[168.3,-44],[170.5,-43]]]
};

// ---- projection (Robinson-like) ----
const PLEN=[1,0.9986,0.9954,0.99,0.9822,0.973,0.96,0.9427,0.9216,0.8962,0.8679,0.835,0.7986,0.7597,0.7186,0.6732,0.6213,0.5722,0.5322];
const PDFE=[0,0.062,0.124,0.186,0.248,0.31,0.372,0.434,0.4958,0.5571,0.6176,0.6769,0.7346,0.7903,0.8435,0.8936,0.9394,0.9761,1];
function interp(t,lat){const a=Math.min(Math.abs(lat),90)/5;const i=Math.min(Math.floor(a),17);const f=a-i;return t[i]+(t[i+1]-t[i])*f;}
const CX=752, CY=319, KX=3.1, KY=293;
function px(lon,lat){return CX+KX*interp(PLEN,lat)*lon;}
function py(lat){return CY-Math.sign(lat)*KY*interp(PDFE,lat);}
function colorFor(v){
  if(!v) return "#ffffff";
  const t=Math.max(0,Math.min(1,(v-1)/9));
  const g=Math.round(240+(51-240)*t);
  return "rgb("+g+","+g+","+g+")";
}
const NS="http://www.w3.org/2000/svg";
const layer=document.getElementById('countries');
countryNames.forEach(function(name,i){
  const rings=S[name]; if(!rings) return;
  let d="";
  rings.forEach(function(r){
    r.forEach(function(p,j){d+=(j?"L":"M")+px(p[0],p[1]).toFixed(1)+","+py(p[1]).toFixed(1);});
    d+="Z";
  });
  const path=document.createElementNS(NS,'path');
  path.setAttribute('d',d);
  path.setAttribute('fill',colorFor(ngoCounts[i]));
  path.setAttribute('stroke','#000');
  path.setAttribute('stroke-width','1.2');
  path.setAttribute('stroke-linejoin','round');
  
  
  layer.appendChild(path);
});

// ---- legend ticks ----
const LX0=724, LW=360, VMIN=1, VMAX=10.5;
function lx(v){return LX0+(v-VMIN)/(VMAX-VMIN)*LW;}
const tg=document.getElementById('legend-ticks');
legendTicks.forEach(function(v,i){
  const t=document.createElementNS(NS,'text');
  t.setAttribute('x',(lx(v)+(i===legendTicks.length-1?13:0)).toFixed(1));
  t.setAttribute('y','678');
  t.setAttribute('text-anchor','middle');
  t.setAttribute('font-size','22');
  t.setAttribute('fill','#222');
  t.textContent=legendTickLabels[i];
  
  
  tg.appendChild(t);
});
</script>
</body></html>
